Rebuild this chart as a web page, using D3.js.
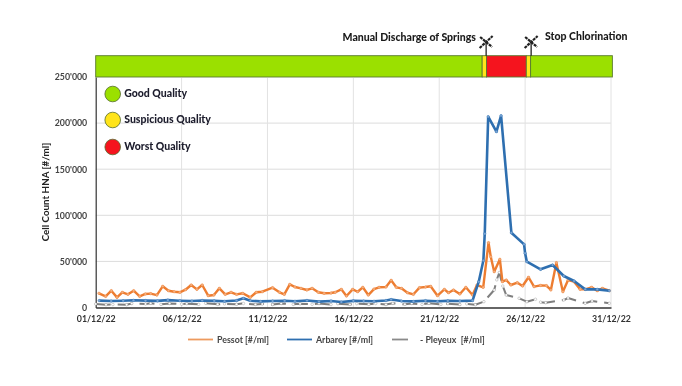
<!DOCTYPE html>
<html><head><meta charset="utf-8">
<script src="https://cdn.jsdelivr.net/npm/d3@7"></script>
<style>html,body{margin:0;padding:0;background:#fff}svg{display:block;filter:blur(0.35px)}text{font-family:Lato,"Open Sans",sans-serif;white-space:pre}</style>
</head><body><svg id="c" width="682" height="386"></svg>
<script>
const tickDays=[0,5,10,15,20,25,30];
const tickLabels=["01/12/22","06/12/22","11/12/22","16/12/22","21/12/22","26/12/22","31/12/22"];
const yTicks=[0,50000,100000,150000,200000,250000];
const yTickLabels=["0","50'000","100'000","150'000","200'000","250'000"];
const pessotDays=[0.19,0.58,0.91,1.24,1.55,1.88,2.21,2.56,2.89,3.2,3.56,3.9,4.24,4.57,4.9,5.23,5.56,5.89,6.2,6.55,6.88,7.2,7.54,7.88,8.2,8.56,9,9.35,9.7,10.3,10.7,10.98,11.3,11.6,11.95,12.3,12.6,12.96,13.3,13.7,13.95,14.3,14.6,14.96,15.25,15.55,15.87,16.2,16.5,16.9,17.2,17.5,17.8,18.15,18.5,18.85,19.2,19.5,19.9,20.3,20.54,20.83,21.2,21.55,21.94,22.2,22.56,22.87,23,23.2,23.53,23.68,23.9,24.17,24.55,24.85,25.2,25.52,25.9,26.24,26.5,26.82,27.2,27.5,27.85,28.2,28.5,28.87,29.2,29.5,29.9];
const pessotValues=[15400,12100,18200,11000,16500,14300,18200,12100,14700,15000,13500,23000,18200,17100,16500,19300,24400,19700,24400,12800,13500,20800,14300,16500,14300,15400,11000,16500,17100,21500,16500,14300,25100,22200,20800,19000,20800,16500,15400,15700,16500,19700,12500,19700,17100,21900,13500,20000,21900,22200,29500,21900,20800,16000,14300,21500,22200,23000,12800,19700,16000,19000,14600,21900,13500,24400,21900,70300,55100,38800,52300,28000,29800,24400,26900,23300,32800,22600,24000,23700,19000,48600,17100,29800,28000,19700,19700,21900,18200,20800,18200];
const arbareyDays=[0.2,0.9,1.6,2.2,2.9,3.6,4.2,4.9,5.6,6.2,6.9,7.5,8.2,8.6,9,9.6,10.3,11,11.6,12.3,13,13.7,14.3,15,15.6,16.2,16.9,17.2,17.8,18.5,19.2,19.9,20.5,21.2,21.94,22.3,22.57,22.65,22.85,23.33,23.6,24.2,24.94,25,25.1,25.9,26.6,27.25,27.85,28.5,29.2,29.9];
const arbareyValues=[7500,7000,7300,7800,7500,7200,8000,7400,7000,7600,7200,6800,7600,10000,7400,6600,7000,7400,6800,7600,6400,7000,6000,7200,7000,6800,7600,8600,7000,6600,7400,6800,7200,7000,7500,28000,51000,80000,206900,190700,208000,81100,68500,58800,49700,41400,46100,34200,28700,19700,19700,18200];
const pleyeuxDays=[0,0.6,1,1.8,2.1,2.9,3.2,3.8,4.3,5,5.3,6,6.4,7.1,7.5,8.2,8.6,9.3,9.7,10.3,10.8,11.5,11.9,12.6,13,13.7,14.1,14.8,15.2,15.9,16.3,16.9,17.3,18,18.4,19,19.4,20.1,20.5,21.2,21.6,22.1,22.6,23.2,23.35,23.5,23.7,23.9,24.65,25.1,25.6,25.9,26.2,27.25,27.5,28.5,28.9,29.9];
const pleyeuxValues=[3800,3000,3200,3000,4300,3800,4600,3400,4400,3600,4200,3500,4600,3400,4000,3500,4400,3300,3800,3200,4400,3400,4000,3500,4300,3200,4100,3300,4200,3400,4300,3200,4600,3400,4400,3300,4500,3400,4200,3200,4000,3000,6300,19000,30000,38000,23300,13500,10000,6300,8900,5800,5200,8100,10300,4600,7000,4600];
const qualityNames=["Good Quality","Suspicious Quality","Worst Quality"];
const qualityColors=["#9be000","#ffe41a","#f5141e"];
const barStart=[0,22.5,22.75,25.07,25.32];
const barEnd=[22.5,22.75,25.07,25.32,30.08];
const barLevel=[0,1,2,1,0];
const eventDays=[22.73,25.35];
const eventNames=["Manual Discharge of Springs","Stop Chlorination"];
const legendNames=["Pessot [#/ml]","Arbarey [#/ml]","- Pleyeux  [#/ml]"];

const svg=d3.select("#c");
const x=d3.scaleLinear().domain([0,30]).range([95.7,611]);
const y=d3.scaleLinear().domain([0,250000]).range([307.5,77]);

// grid
svg.append("g").selectAll("line").data(yTicks.slice(1,-1)).join("line")
 .attr("x1",95.7).attr("x2",611).attr("y1",d=>y(d)).attr("y2",d=>y(d)).attr("stroke","#dcdcdc").attr("stroke-width",1);
svg.append("g").selectAll("line").data(tickDays.slice(1)).join("line")
 .attr("x1",d=>x(d)).attr("x2",d=>x(d)).attr("y1",78).attr("y2",307.5).attr("stroke","#e2e2e2").attr("stroke-width",1);

// axes
const gx=svg.append("g").attr("transform","translate(0,307.5)")
 .call(d3.axisBottom(x).tickValues(tickDays).tickFormat((d,i)=>tickLabels[i]).tickSize(0).tickPadding(8));
gx.select(".domain").attr("stroke","#333").attr("stroke-width",1.6);
gx.selectAll("text").attr("font-size",8.8).attr("font-weight",700).attr("fill","#333");
const gy=svg.append("g").attr("transform","translate(95.7,0)")
 .call(d3.axisLeft(y).tickValues(yTicks).tickFormat((d,i)=>yTickLabels[i]).tickSize(0).tickPadding(8.5));
gy.select(".domain").attr("stroke","#333").attr("stroke-width",1.2);
gy.selectAll("text").attr("font-size",8.8).attr("font-weight",700).attr("fill","#444");
svg.append("text").attr("transform","translate(49,192) rotate(-90)").attr("text-anchor","middle")
 .attr("font-size",9.8).attr("font-weight",700).attr("fill","#222").text("Cell Count HNA [#/ml]");

// quality bar
svg.append("g").selectAll("rect").data(barLevel).join("rect")
 .attr("x",(d,i)=>x(barStart[i])).attr("width",(d,i)=>x(barEnd[i])-x(barStart[i]))
 .attr("y",55.7).attr("height",21.3).attr("fill",d=>qualityColors[d]).attr("stroke","#5a7a30").attr("stroke-width",0.9);

// series
const line=d3.line().x(d=>x(d[0])).y(d=>y(d[1]));
function series(days,vals,color,w,dash,mfill){
 const pts=days.map((d,i)=>[d,vals[i]]);
 svg.append("path").datum(pts).attr("d",line).attr("fill","none").attr("stroke",color).attr("stroke-width",w)
  .attr("stroke-linejoin","round").attr("stroke-dasharray",dash);
 svg.append("g").selectAll("circle").data(pts).join("circle").attr("cx",d=>x(d[0])).attr("cy",d=>y(d[1]))
  .attr("r",1.3).attr("fill",mfill).attr("stroke",color).attr("stroke-width",0.5).attr("stroke-opacity",0.7);
}
series(pleyeuxDays,pleyeuxValues,"#7f7f7f",2,"15 7","#fff");
series(pessotDays,pessotValues,"#ed7d31",2.4,null,"#f4b183");
series(arbareyDays,arbareyValues,"#2e6fb0",2.6,null,"#7da7d6");

// quality legend
const ql=svg.append("g").selectAll("g").data(qualityNames).join("g")
 .attr("transform",(d,i)=>`translate(112.7,${[94,120,147][i]})`);
ql.append("circle").attr("r",7.8).attr("fill",(d,i)=>qualityColors[i]).attr("stroke","#556b2f").attr("stroke-width",0.8);
ql.append("text").attr("x",11.5).attr("y",3).attr("font-size",10.5).attr("font-weight",900).attr("fill","#1c1c2c").text(d=>d);

// event markers
const ev=svg.append("g").selectAll("g").data(eventDays).join("g").attr("transform",d=>`translate(${x(d)},0)`);
ev.append("line").attr("y1",42).attr("y2",55.7).attr("stroke","#111").attr("stroke-width",1.2);
ev.append("line").attr("x1",-6.5).attr("x2",6.5).attr("y1",48).attr("y2",36).attr("stroke","#222").attr("stroke-width",2.2).attr("stroke-dasharray","3 0.8");
ev.append("line").attr("x1",-6).attr("x2",6).attr("y1",37).attr("y2",47).attr("stroke","#222").attr("stroke-width",2.2).attr("stroke-dasharray","3 0.8");
svg.append("text").attr("x",476).attr("y",41).attr("text-anchor","end").attr("font-size",10.5).attr("font-weight",900).attr("fill","#1a1a1a").text(eventNames[0]);
svg.append("text").attr("x",545).attr("y",40).attr("font-size",10.5).attr("font-weight",900).attr("fill","#1a1a1a").text(eventNames[1]);

// series legend
const lg=[[188,213,217,"#ed9a5f"],[287,312,316,"#2e6fb0"],[392,408,420,"#8a8a8a"]];
lg.forEach((l,i)=>{
 svg.append("line").attr("x1",l[0]).attr("x2",l[1]).attr("y1",339.5).attr("y2",339.5).attr("stroke",l[3]).attr("stroke-width",1.8);
 svg.append("text").attr("x",l[2]).attr("y",342.5).attr("font-size",8.8).attr("font-weight",700).attr("fill","#444").text(legendNames[i]);
});
</script></body></html>
